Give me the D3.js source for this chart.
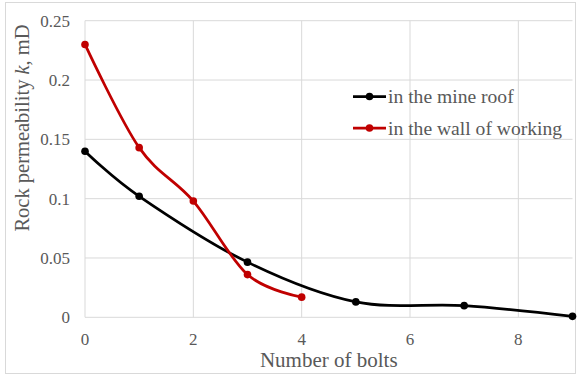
<!DOCTYPE html>
<html>
<head>
<meta charset="utf-8">
<script src="https://cdn.jsdelivr.net/npm/d3@7"></script>
<style>
  body { margin: 0; background: #fff; }
  svg text { font-family: "Liberation Serif", "DejaVu Serif", "Times New Roman", Times, serif; fill: #595959; }
</style>
</head>
<body>
<svg id="chart"></svg>
<script>
let roofBolts = [0, 1, 3, 5, 7, 9];
let roofK = [0.14, 0.102, 0.0465, 0.013, 0.0098, 0.0008];
let wallBolts = [0, 1, 2, 3, 4];
let wallK = [0.23, 0.143, 0.098, 0.036, 0.017];
let xTicks = [0, 2, 4, 6, 8];
let yTicks = [0, 0.05, 0.1, 0.15, 0.2, 0.25];
let seriesNames = ["in the mine roof", "in the wall of working"];

let width = 579;
let height = 375;
let margin = { left: 85, right: 6.5, top: 20.7, bottom: 57.7 };

let svg = d3.select("#chart").attr("width", width).attr("height", height);

svg.append("rect")
  .attr("x", 5.5).attr("y", 2.5)
  .attr("width", width - 9).attr("height", height - 4)
  .style("fill", "#fff").style("stroke", "#d9d9d9");

let x = d3.scaleLinear().domain([0, 9]).range([margin.left, width - margin.right]);
let y = d3.scaleLinear().domain([0, 0.25]).range([height - margin.bottom, margin.top]);

// grid
svg.append("g")
  .selectAll("line.h")
  .data(yTicks)
  .join("line")
  .attr("x1", x(0)).attr("x2", x(9))
  .attr("y1", (d) => y(d)).attr("y2", (d) => y(d))
  .style("stroke", "#d9d9d9").style("stroke-width", 1);

svg.append("g")
  .selectAll("line.v")
  .data(xTicks)
  .join("line")
  .attr("x1", (d) => x(d)).attr("x2", (d) => x(d))
  .attr("y1", y(0)).attr("y2", y(0.25))
  .style("stroke", "#d9d9d9").style("stroke-width", 1);

// tick labels
svg.append("g")
  .selectAll("text")
  .data(yTicks)
  .join("text")
  .attr("x", 70)
  .attr("y", (d) => y(d) + 6)
  .attr("text-anchor", "end")
  .style("font-size", "17px")
  .text((d) => d);

svg.append("g")
  .selectAll("text")
  .data(xTicks)
  .join("text")
  .attr("x", (d) => x(d))
  .attr("y", 345)
  .attr("text-anchor", "middle")
  .style("font-size", "17px")
  .text((d) => d);

// axis titles
svg.append("text")
  .attr("x", (x(0) + x(9)) / 2)
  .attr("y", 367)
  .attr("text-anchor", "middle")
  .style("font-size", "21px")
  .text("Number of bolts");

let yTitle = svg.append("text")
  .attr("transform", "translate(29,128) rotate(-90)")
  .attr("text-anchor", "middle")
  .style("font-size", "20.5px");
yTitle.append("tspan").text("Rock permeability ");
yTitle.append("tspan").style("font-style", "italic").text("k");
yTitle.append("tspan").text(", mD");

// series
let line = d3.line()
  .x((d) => x(d[0]))
  .y((d) => y(d[1]))
  .curve(d3.curveCardinal.tension(0));

let series = [
  { name: seriesNames[0], color: "#000000", pts: d3.zip(roofBolts, roofK) },
  { name: seriesNames[1], color: "#c00000", pts: d3.zip(wallBolts, wallK) },
];

series.forEach((s) => {
  svg.append("path")
    .attr("d", line(s.pts))
    .style("fill", "none")
    .style("stroke", s.color)
    .style("stroke-width", 2.75);

  svg.append("g")
    .selectAll("circle")
    .data(s.pts)
    .join("circle")
    .attr("cx", (d) => x(d[0]))
    .attr("cy", (d) => y(d[1]))
    .attr("r", 3.8)
    .style("fill", s.color);
});

// legend
series.forEach((s, i) => {
  let ly = 96.5 + i * 31.5;
  svg.append("line")
    .attr("x1", 353).attr("x2", 386)
    .attr("y1", ly).attr("y2", ly)
    .style("stroke", s.color).style("stroke-width", 2.75);
  svg.append("circle")
    .attr("cx", 369.5).attr("cy", ly).attr("r", 3.8)
    .style("fill", s.color);
  svg.append("text")
    .attr("x", 388)
    .attr("y", ly + 6.5)
    .style("font-size", "19.6px")
    .text(s.name);
});
</script>
</body>
</html>
